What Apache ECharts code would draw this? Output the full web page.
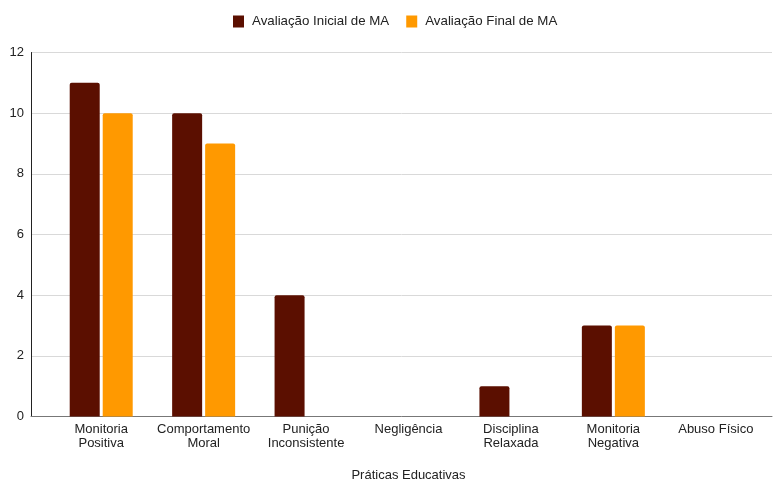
<!DOCTYPE html>
<html>
<head>
<meta charset="utf-8">
<script src="https://cdn.jsdelivr.net/npm/echarts@6/dist/echarts.min.js"></script>
<style>
html,body{margin:0;padding:0;background:#fff;}
#c{width:774px;height:481px;}
</style>
</head>
<body>
<div id="c"></div>
<script>
const categories = ["Monitoria\nPositiva", "Comportamento\nMoral", "Punição\nInconsistente", "Negligência", "Disciplina\nRelaxada", "Monitoria\nNegativa", "Abuso Físico"];
const seriesNames = ["Avaliação Inicial de MA", "Avaliação Final de MA"];
const inicial = [11, 10, 4, 0, 1, 3, 0];
const final = [10, 9, 0, 0, 0, 3, 0];
const yTicks = [0, 2, 4, 6, 8, 10, 12];

const font = "'Liberation Sans', Arial, sans-serif";
const chart = echarts.init(document.getElementById('c'), null, {renderer: 'canvas'});
const gTop = 52.5, gBottom = 64.5;
chart.setOption({
  animation: false,
  textStyle: {fontFamily: font},
  legend: {
    top: 10, left: 228,
    itemWidth: 11, itemHeight: 12, itemGap: 17,
    icon: 'rect',
    textStyle: {fontSize: 13.3, color: '#222', fontFamily: font, padding: [0, 0, 0, 3]},
    data: seriesNames
  },
  grid: [
    {left: 31, right: 2, top: gTop, bottom: gBottom, containLabel: false, outerBoundsMode: 'none'},
    {left: 50, right: 7, top: gTop, bottom: gBottom, containLabel: false, outerBoundsMode: 'none'}
  ],
  xAxis: [
    {
      gridIndex: 0, type: 'value', min: 0, max: 1,
      axisLine: {show: true, onZero: false, lineStyle: {color: '#777', width: 1}},
      axisTick: {show: false}, axisLabel: {show: false}, splitLine: {show: false}
    },
    {
      gridIndex: 1, type: 'category', data: categories,
      axisLine: {show: false}, axisTick: {show: false},
      axisLabel: {fontSize: 13, color: '#222', lineHeight: 14, margin: 6, interval: 0, fontFamily: font},
      name: 'Práticas Educativas', nameLocation: 'middle', nameGap: 52,
      nameTextStyle: {fontSize: 13, color: '#222', fontFamily: font}
    }
  ],
  yAxis: [
    {
      gridIndex: 0, type: 'value', min: yTicks[0], max: yTicks[yTicks.length - 1], interval: 2,
      axisLine: {show: true, lineStyle: {color: '#222', width: 1}},
      axisTick: {show: false},
      axisLabel: {fontSize: 13, color: '#222', margin: 7, fontFamily: font},
      splitLine: {show: true, lineStyle: {color: '#d9d9d9', width: 1}}
    },
    {
      gridIndex: 1, type: 'value', min: yTicks[0], max: yTicks[yTicks.length - 1], interval: 2,
      show: false, splitLine: {show: false}
    }
  ],
  series: [
    {
      name: seriesNames[0], type: 'bar', xAxisIndex: 1, yAxisIndex: 1,
      data: inicial, barWidth: 30, barGap: '10%',
      itemStyle: {color: '#5b0f00', borderRadius: [2, 2, 0, 0]}
    },
    {
      name: seriesNames[1], type: 'bar', xAxisIndex: 1, yAxisIndex: 1,
      data: final, barWidth: 30, barGap: '10%',
      itemStyle: {color: '#ff9900', borderRadius: [2, 2, 0, 0]}
    }
  ]
});
</script>
</body>
</html>
